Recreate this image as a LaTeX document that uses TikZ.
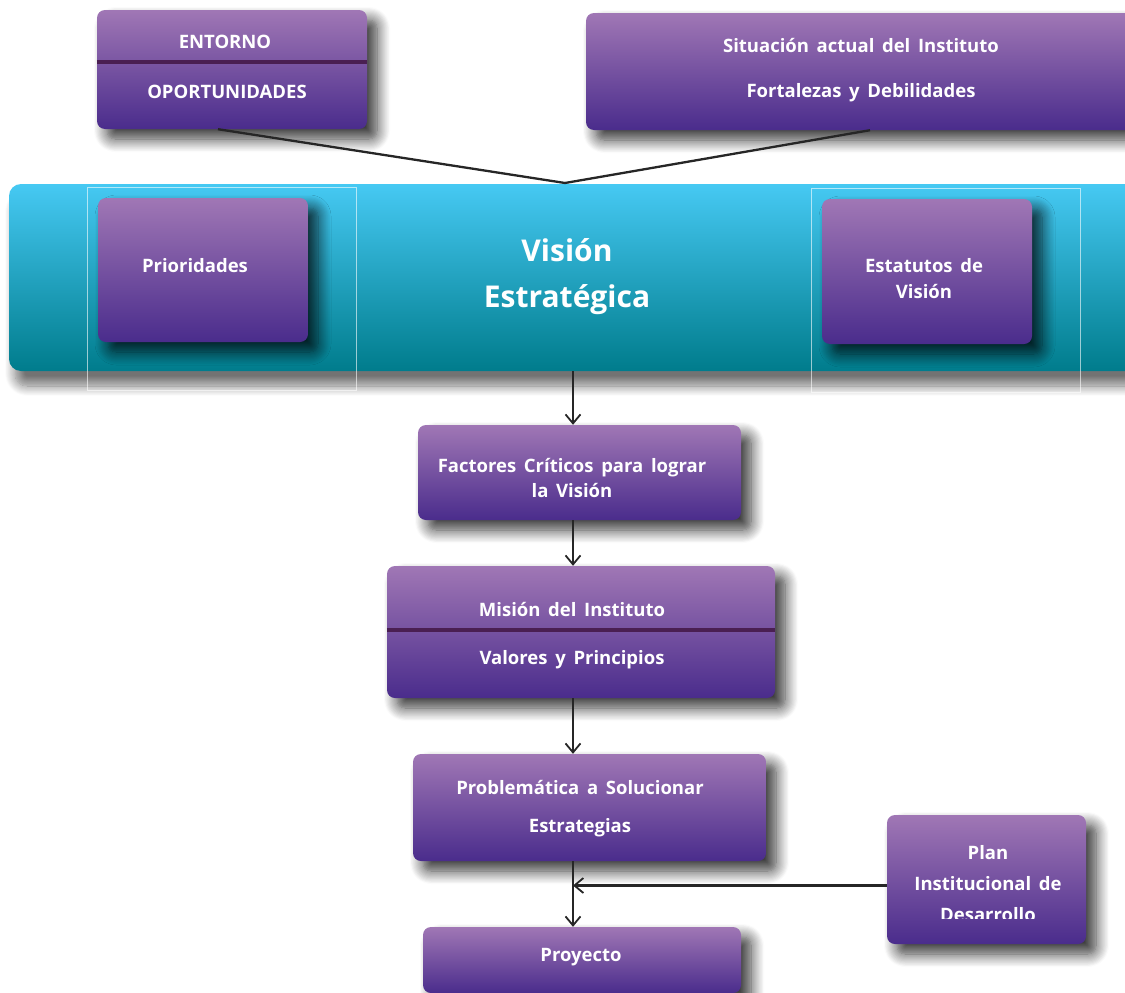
\documentclass[tikz,border=0pt]{standalone}
\usepackage{fontspec}
\setmainfont{Open Sans}[WordSpace=1.6]
\usetikzlibrary{arrows.meta,shadows.blur}
\definecolor{ptop}{HTML}{A077B5}
\definecolor{pmid}{HTML}{6A45A0}
\definecolor{pbot}{HTML}{4A2C8C}
\definecolor{ctop}{HTML}{46C9F3}
\definecolor{cmid}{HTML}{00A2BC}
\definecolor{cbot}{HTML}{007C8C}
\definecolor{divc}{HTML}{4A1F52}
\tikzset{
  pbox/.style={rounded corners=8pt, top color=ptop, middle color=pmid, bottom color=pbot,
    draw=none, inner sep=0pt,
    blur shadow={shadow xshift=10pt, shadow yshift=-10pt, shadow blur radius=13pt, shadow blur steps=12, shadow opacity=80}},
  ptext/.style={text=white, font=\bfseries\fontsize{18.5}{26}\selectfont, align=center, inner sep=0pt},
  arr/.style={draw=black!85, line width=2.3pt, -{Straight Barb[length=9pt,width=15pt,line width=1.8pt]}},
  link/.style={draw=black!85, line width=2.3pt},
  divider/.style={draw=divc, line width=4pt},
  ghost/.style={draw=white, opacity=0.6, line width=0.8pt},
}
\begin{document}
\begin{tikzpicture}[x=1pt,y=-1pt]
\useasboundingbox (0,0) rectangle (1125,993);
\clip (0,0) rectangle (1125,993);
\coordinate (ax) at (573,0);
% band
\node[rounded corners=12pt, top color=ctop, middle color=cmid, bottom color=cbot, draw=none,
  minimum width=1131pt, minimum height=187pt, inner sep=0pt,
  blur shadow={shadow xshift=6pt, shadow yshift=-15pt, shadow blur radius=10pt, shadow blur steps=12, shadow opacity=55}]
  (band) at (574.5,277.5) {};
\draw[ghost] (87,187) rectangle (356,390);
\draw[ghost] (811,188) rectangle (1080,392);
\node[text=white, font=\bfseries\fontsize{30}{46}\selectfont, align=center, inner sep=0pt]
  (vis) at (567,277) {Visión\\Estratégica};
% top boxes
\node[pbox, minimum width=270pt, minimum height=119pt] (ent) at (232,69.5) {};
\draw[divider] (ent.west |- 0,62) -- (ent.east |- 0,62);
\node[ptext] (entA) at (225,42) {ENTORNO};
\node[ptext] (entB) at (227,92) {OPORTUNIDADES};
\node[pbox, minimum width=554pt, minimum height=117pt] (sit) at (863,71.5) {};
\node[ptext, font=\bfseries\fontsize{18.5}{45}\selectfont] (sitT) at (861,70) {Situación actual del Instituto\\Fortalezas y Debilidades};
\coordinate (meet) at (565,183);
\draw[link] ([xshift=-14pt]ent.south) -- (meet);
\draw[link] ([xshift=7pt]sit.south) -- (meet);
% band boxes
\node[pbox, minimum width=210pt, minimum height=144pt] (prio) at (203,270) {};
\node[ptext] (prioT) at (195,266) {Prioridades};
\node[pbox, minimum width=210pt, minimum height=145pt] (est) at (927,271.5) {};
\node[ptext] (estT) at (924,279) {Estatutos de\\Visión};
% chain
\node[pbox, minimum width=323pt, minimum height=95pt] (fact) at (579.5,472.5) {};
\node[ptext, font=\bfseries\fontsize{18.5}{25}\selectfont] (factT) at (572,478) {Factores Críticos para lograr\\la Visión};
\node[pbox, minimum width=388pt, minimum height=132pt] (mis) at (581,632) {};
\draw[divider] (mis.west |- 0,630) -- (mis.east |- 0,630);
\node[ptext] (misA) at (572,609) {Misión del Instituto};
\node[ptext] (misB) at (572,660) {Valores y Principios};
\node[pbox, minimum width=353pt, minimum height=107pt] (prob) at (589.5,807.5) {};
\node[ptext, font=\bfseries\fontsize{18.5}{38}\selectfont] (probT) at (580,809) {Problemática a Solucionar\\Estrategias};
\node[pbox, minimum width=318pt, minimum height=66pt] (proy) at (582,960) {};
\node[ptext] (proyT) at (581,957) {Proyecto};
\node[pbox, minimum width=199pt, minimum height=129pt] (plan) at (986.5,879.5) {};
\begin{scope}
\clip (887,815) rectangle (1086,918);
\node[ptext, font=\bfseries\fontsize{18.5}{31}\selectfont] (planT) at (988,884) {Plan\\Institucional de\\Desarrollo};
\end{scope}
% arrows
\draw[arr] (band.south -| ax) -- (fact.north -| ax);
\draw[arr] (fact.south -| ax) -- (mis.north -| ax);
\draw[arr] (mis.south -| ax) -- (prob.north -| ax);
\draw[arr] (prob.south -| ax) -- (proy.north -| ax);
\draw[arr] ([yshift=-6pt]plan.west) -- ([yshift=-6pt]plan.west -| ax);
\end{tikzpicture}
\end{document}
